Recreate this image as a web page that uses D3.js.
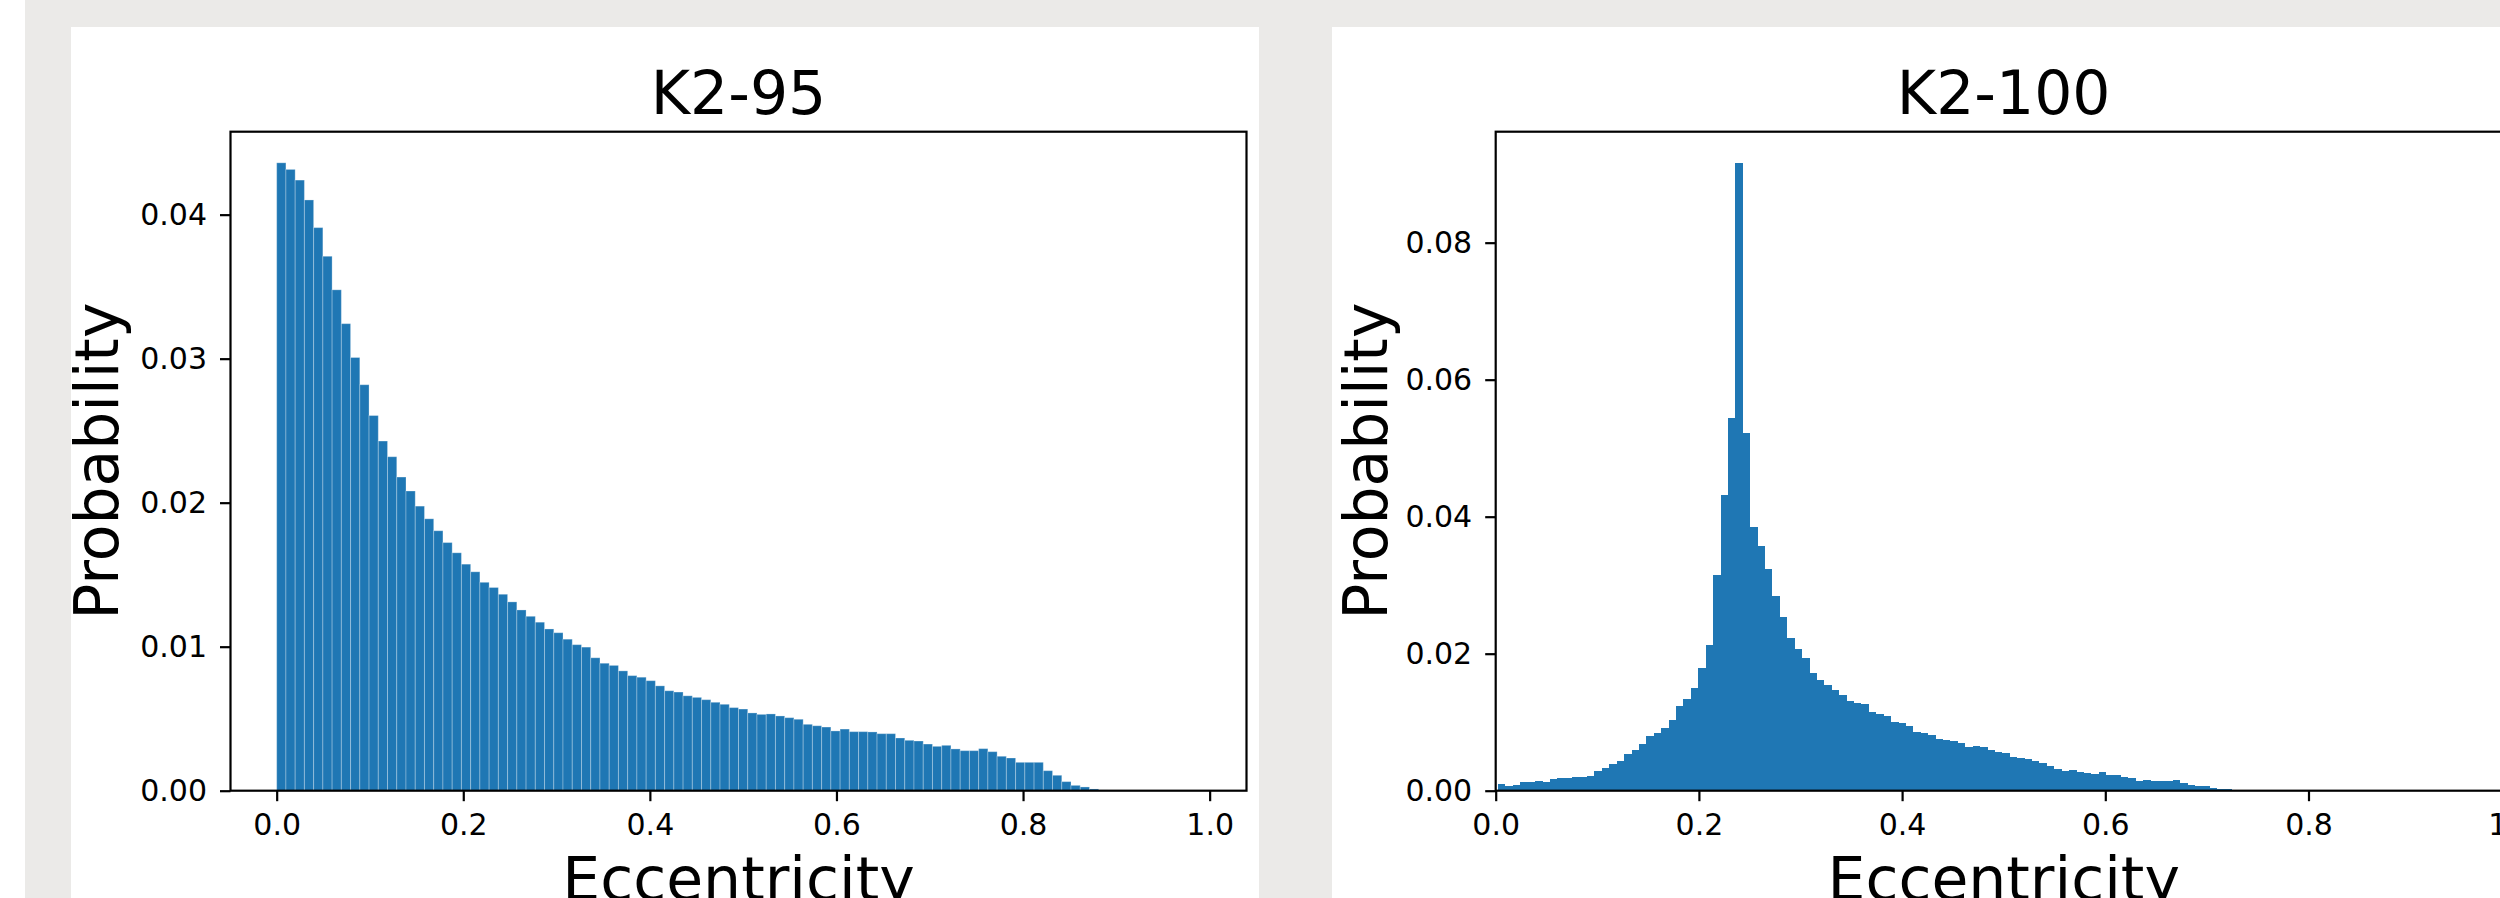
<!DOCTYPE html>
<html><head><meta charset="utf-8">
<script src="https://cdn.jsdelivr.net/npm/d3@7"></script>
<style>html,body{margin:0;padding:0;background:#fff;overflow:hidden}</style>
</head><body>
<svg id="chart" width="2500" height="898"></svg>
<script>
// ---------- data ----------
const titles = ["K2-95", "K2-100"];
const xLabel = "Eccentricity";
const yLabel = "Probability";
const xTickValues = [0, 0.2, 0.4, 0.6, 0.8, 1.0];

// K2-95: 100 bins, starting at 0, width 0.0099
const k2_95_binStart = 0;
const k2_95_binWidth = 0.0099;
const k2_95_values = [
  0.04360,0.04314,0.04240,0.04102,0.03910,0.03711,0.03478,0.03243,0.03008,0.02819,
  0.02605,0.02428,0.02319,0.02178,0.02081,0.01976,0.01888,0.01805,0.01723,0.01652,
  0.01573,0.01520,0.01447,0.01411,0.01364,0.01311,0.01255,0.01211,0.01170,0.01123,
  0.01097,0.01052,0.01014,0.00997,0.00923,0.00885,0.00870,0.00832,0.00799,0.00788,
  0.00764,0.00728,0.00694,0.00685,0.00659,0.00648,0.00632,0.00614,0.00600,0.00577,
  0.00567,0.00540,0.00530,0.00533,0.00519,0.00507,0.00496,0.00461,0.00451,0.00442,
  0.00415,0.00428,0.00410,0.00410,0.00408,0.00396,0.00396,0.00366,0.00350,0.00345,
  0.00324,0.00308,0.00315,0.00290,0.00278,0.00278,0.00292,0.00271,0.00239,0.00227,
  0.00197,0.00197,0.00197,0.00139,0.00107,0.00063,0.00037,0.00026,0.00012,0.00005,
  0,0,0,0,0,0,0,0,0,0
];
const k2_95_yTicks = [0, 0.01, 0.02, 0.03, 0.04];

// K2-100: 100 bins, starting at 0.0023, width 0.0073
const k2_100_binStart = 0.0023;
const k2_100_binWidth = 0.0073;
const k2_100_values = [
  0.00091,0.00066,0.00077,0.00121,0.00125,0.00145,0.00121,0.00164,0.00181,0.00181,
  0.00200,0.00200,0.00219,0.00285,0.00328,0.00388,0.00438,0.00536,0.00597,0.00682,
  0.00797,0.00847,0.00920,0.01035,0.01231,0.01340,0.01492,0.01791,0.02133,0.03152,
  0.04323,0.05438,0.09164,0.05219,0.03853,0.03572,0.03240,0.02836,0.02531,0.02225,
  0.02062,0.01932,0.01723,0.01620,0.01545,0.01470,0.01397,0.01310,0.01285,0.01266,
  0.01152,0.01121,0.01090,0.01008,0.00983,0.00943,0.00857,0.00837,0.00816,0.00756,
  0.00740,0.00730,0.00691,0.00643,0.00653,0.00633,0.00594,0.00570,0.00545,0.00497,
  0.00472,0.00467,0.00438,0.00399,0.00360,0.00321,0.00292,0.00302,0.00277,0.00263,
  0.00243,0.00268,0.00229,0.00229,0.00204,0.00181,0.00142,0.00156,0.00146,0.00146,
  0.00146,0.00156,0.00117,0.00083,0.00069,0.00073,0.00044,0.00029,0.00020,0.00005
];
const k2_100_yTicks = [0, 0.02, 0.04, 0.06, 0.08];

// ---------- drawing ----------
const svg = d3.select("#chart");
const FONT = "DejaVu Sans, Verdana, sans-serif";
const BAR = "#1f77b4";
const GRAY = "#ebeae8";

svg.append("rect").attr("x", 25).attr("y", 0).attr("width", 2475).attr("height", 898).attr("fill", GRAY);
svg.append("rect").attr("x", 71).attr("y", 27).attr("width", 1188).attr("height", 871).attr("fill", "#fff");
svg.append("rect").attr("x", 1332).attr("y", 27).attr("width", 1168).attr("height", 871).attr("fill", "#fff");

function drawPanel(cfg) {
  const g = svg.append("g");
  const x = d3.scaleLinear().domain(cfg.xDomain).range([cfg.left, cfg.left + cfg.width]);
  const y = d3.scaleLinear().domain(cfg.yDomain).range([cfg.bottom, cfg.top]);

  const bins = cfg.values.map((v, i) => ({
    x0: cfg.binStart + i * cfg.binWidth,
    x1: cfg.binStart + (i + 1) * cfg.binWidth,
    v: v
  }));

  g.append("g").selectAll("rect").data(bins.filter(d => d.v > 0)).join("rect")
    .attr("x", d => x(d.x0))
    .attr("width", d => x(d.x1) - x(d.x0))
    .attr("y", d => y(d.v))
    .attr("height", d => y(0) - y(d.v))
    .attr("fill", BAR)
    .attr("stroke", cfg.edge ? "rgba(255,255,255,0.28)" : "none")
    .attr("stroke-width", cfg.edge ? 1 : 0)
    .attr("shape-rendering", cfg.edge ? "auto" : "crispEdges");

  // axes
  const xAxis = d3.axisBottom(x).tickValues(xTickValues).tickFormat(d3.format(".1f"))
    .tickSize(10.5).tickPadding(13);
  const yAxis = d3.axisLeft(y).tickValues(cfg.yTicks).tickFormat(d3.format(".2f"))
    .tickSize(10.5).tickPadding(13);

  const gx = g.append("g").attr("transform", `translate(0,${cfg.bottom})`).call(xAxis);
  const gy = g.append("g").attr("transform", `translate(${cfg.left},0)`).call(yAxis);
  [gx, gy].forEach(a => {
    a.select(".domain").remove();
    a.selectAll(".tick line").attr("stroke", "#000").attr("stroke-width", 2.2);
    a.selectAll(".tick text").attr("fill", "#000").style("font-family", FONT).style("font-size", "30px");
  });

  // frame
  g.append("rect").attr("x", cfg.left).attr("y", cfg.top)
    .attr("width", cfg.width).attr("height", cfg.bottom - cfg.top)
    .attr("fill", "none").attr("stroke", "#000").attr("stroke-width", 2.2);

  const cx = cfg.left + cfg.width / 2;
  const cy = (cfg.top + cfg.bottom) / 2;
  g.append("text").attr("x", cx).attr("y", 113.5).attr("text-anchor", "middle")
    .style("font-family", FONT).style("font-size", "60px").attr("fill", "#000").text(cfg.title);
  g.append("text").attr("x", cx).attr("y", 900).attr("text-anchor", "middle")
    .style("font-family", FONT).style("font-size", "60px").attr("fill", "#000").text(xLabel);
  g.append("text").attr("transform", `translate(${cfg.ylabelX},${cy}) rotate(-90)`)
    .attr("text-anchor", "middle")
    .style("font-family", FONT).style("font-size", "60px").attr("fill", "#000").text(yLabel);
}

drawPanel({
  title: titles[0], left: 230.5, width: 1016, top: 131.7, bottom: 790.7,
  xDomain: [-0.0495, 1.0395], yDomain: [0, 0.04576],
  values: k2_95_values, binStart: k2_95_binStart, binWidth: k2_95_binWidth,
  yTicks: k2_95_yTicks, ylabelX: 118, edge: true
});
drawPanel({
  title: titles[1], left: 1495.7, width: 1016, top: 131.7, bottom: 790.7,
  xDomain: [0, 1], yDomain: [0, 0.0962],
  values: k2_100_values, binStart: k2_100_binStart, binWidth: k2_100_binWidth,
  yTicks: k2_100_yTicks, ylabelX: 1386.5, edge: false
});
</script>
</body></html>
